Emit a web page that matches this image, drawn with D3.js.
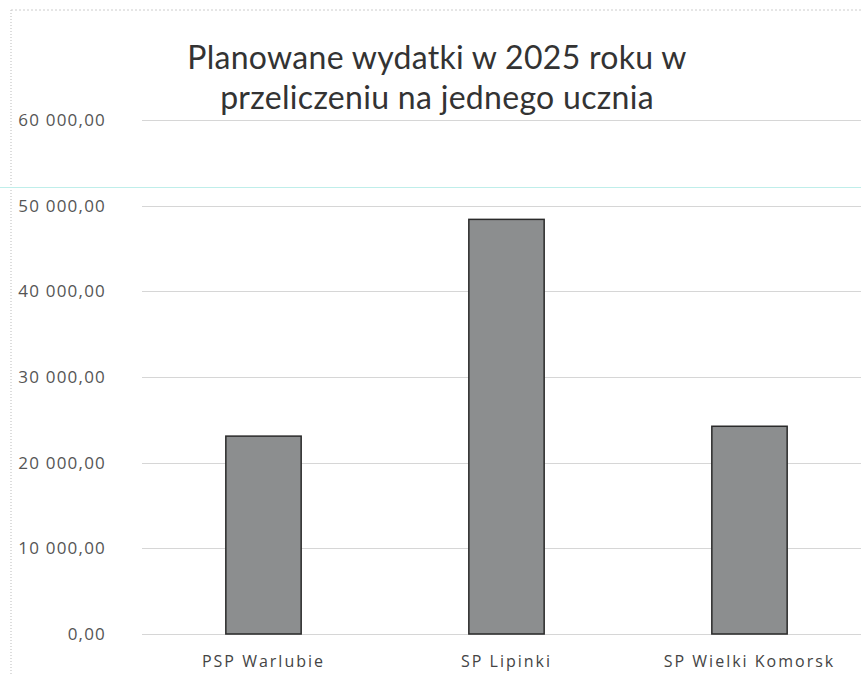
<!DOCTYPE html>
<html>
<head>
<meta charset="utf-8">
<script src="https://cdn.jsdelivr.net/npm/d3@7"></script>
<style>
  body { margin: 0; background: #fff; }
  svg { display: block; }
</style>
</head>
<body>
<div id="chart"></div>
<script>
// data
const schools = ["PSP Warlubie", "SP Lipinki", "SP Wielki Komorsk"];
const spending = [23100, 48400, 24250];
const yTicks = [0, 10000, 20000, 30000, 40000, 50000, 60000];
const titleLines = ["Planowane wydatki w 2025 roku w", "przeliczeniu na jednego ucznia"];

const W = 861, H = 676;
const svg = d3.select("#chart").append("svg")
    .attr("width", W)
    .attr("height", H);

// plot area
const plotLeft = 142, plotRight = 871, plotTop = 120, plotBottom = 634;

const x = d3.scaleBand()
    .domain(schools)
    .range([plotLeft, plotRight])
    .paddingInner(0.69)
    .paddingOuter(0.345);

const y = d3.scaleLinear()
    .domain([0, 60000])
    .range([plotBottom, plotTop]);

// chart frame (dotted left/top edges)
svg.append("line")
    .attr("x1", 11).attr("y1", 10).attr("x2", 11).attr("y2", H)
    .attr("stroke", "#bbb").attr("stroke-dasharray", "1 2");
svg.append("line")
    .attr("x1", 11).attr("y1", 10).attr("x2", W).attr("y2", 10)
    .attr("stroke", "#ccc").attr("stroke-dasharray", "2 2");

// gridlines
svg.append("g")
    .selectAll("line")
    .data(yTicks)
    .join("line")
    .attr("x1", plotLeft).attr("x2", W)
    .attr("y1", d => Math.round(y(d)) + 0.5)
    .attr("y2", d => Math.round(y(d)) + 0.5)
    .attr("stroke", "#d6d6d6");

// faint cyan scan line
svg.append("line")
    .attr("x1", 0).attr("x2", W).attr("y1", 187.5).attr("y2", 187.5)
    .attr("stroke", "#bfeeea").attr("stroke-width", 1);

// y axis labels
const fmt = v => {
    const s = d3.format(",.2f")(v);
    return s.replace(/,/g, " ").replace(".", ",");
};

svg.append("g")
    .selectAll("text")
    .data(yTicks)
    .join("text")
    .attr("x", 106)
    .attr("y", d => y(d) + 6)
    .attr("text-anchor", "end")
    .attr("font-family", "'Open Sans', sans-serif")
    .attr("font-size", 17)
    .attr("letter-spacing", 1.2)
    .attr("fill", "#555")
    .text(fmt);

// bars
svg.append("g")
    .selectAll("rect")
    .data(spending)
    .join("rect")
    .attr("x", (d, i) => x(schools[i]))
    .attr("y", d => y(d))
    .attr("width", x.bandwidth())
    .attr("height", d => y(0) - y(d))
    .attr("fill", "#8c8e8f")
    .attr("stroke", "#2a2a2a")
    .attr("stroke-width", 1.5);

// x labels
svg.append("g")
    .selectAll("text")
    .data(schools)
    .join("text")
    .attr("x", d => x(d) + x.bandwidth() / 2)
    .attr("y", 667)
    .attr("text-anchor", "middle")
    .attr("font-family", "'Open Sans', sans-serif")
    .attr("font-size", 16)
    .attr("letter-spacing", 2)
    .attr("fill", "#444")
    .text(d => d);

// title
svg.append("g")
    .selectAll("text")
    .data(titleLines)
    .join("text")
    .attr("x", 437)
    .attr("y", (d, i) => 69 + i * 40)
    .attr("text-anchor", "middle")
    .attr("font-family", "Lato, 'Open Sans', sans-serif")
    .attr("font-size", 32)
    .attr("letter-spacing", 0.3)
    .attr("fill", "#333")
    .text(d => d);
</script>
</body>
</html>
